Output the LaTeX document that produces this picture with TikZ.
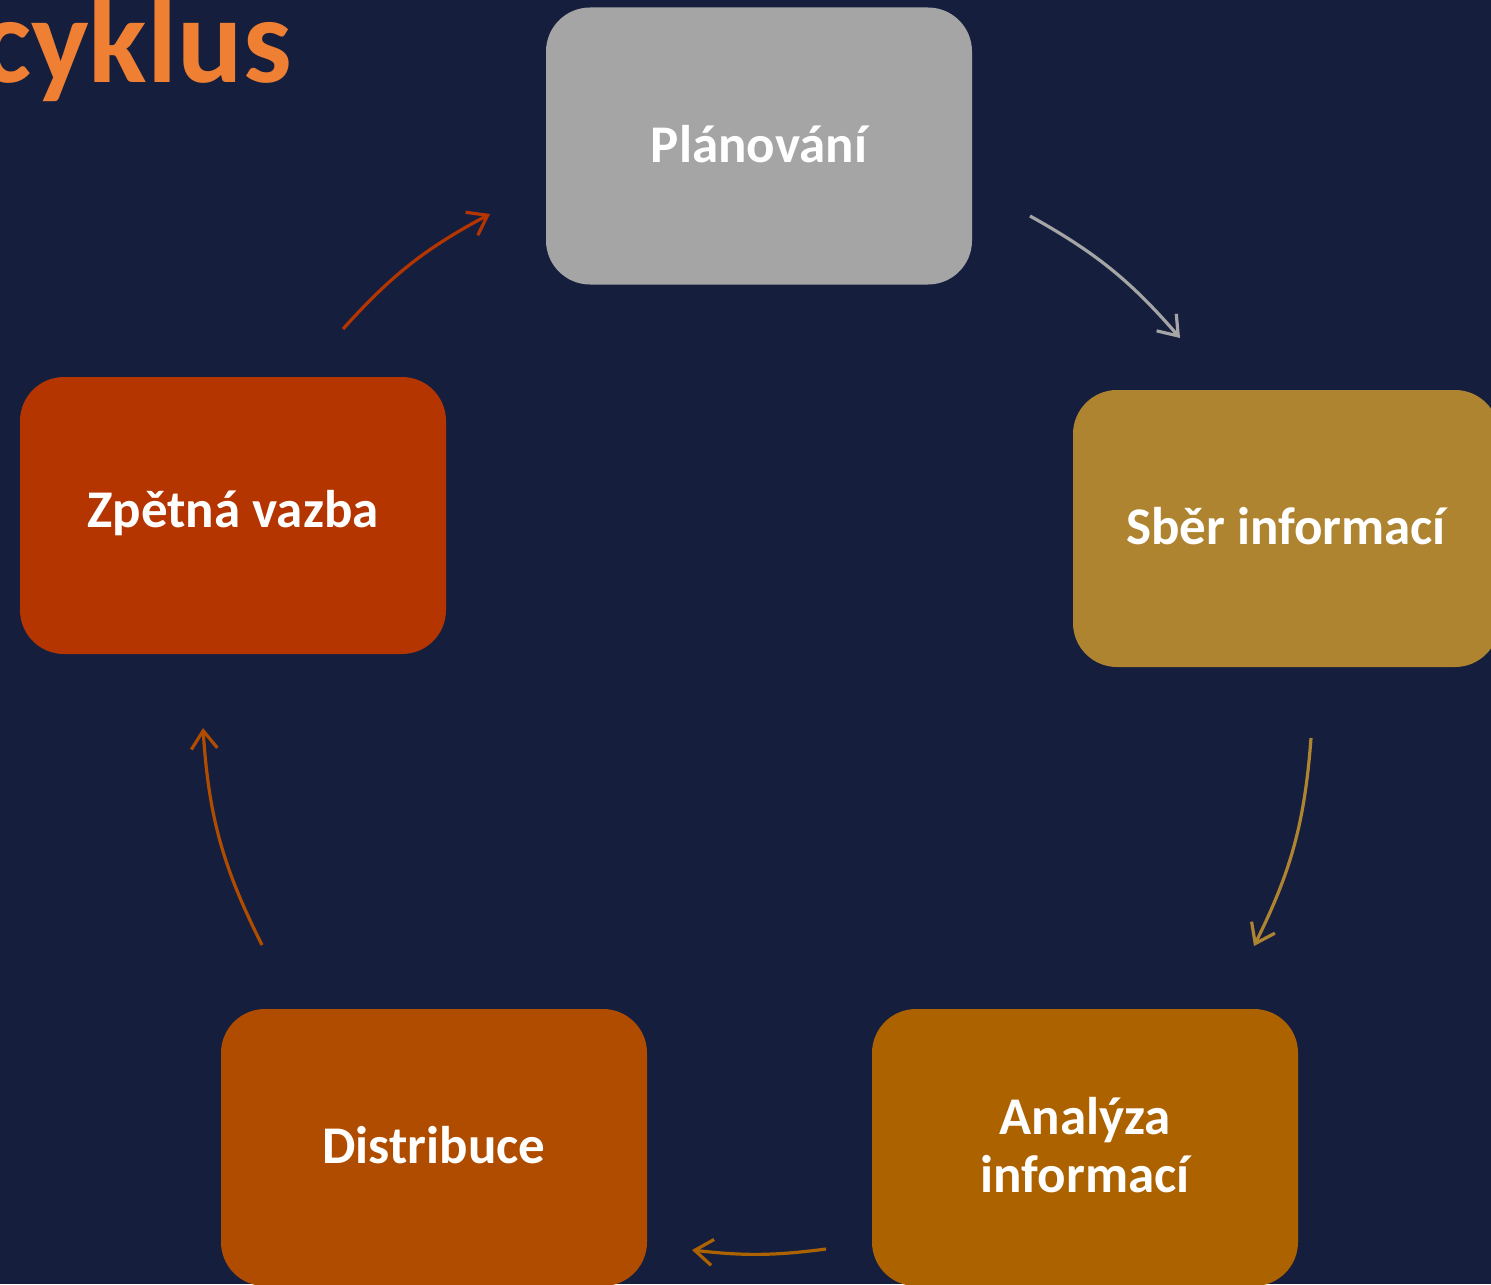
\documentclass[tikz,border=0pt]{standalone}
\usepackage{fontspec}
\setmainfont{Carlito}
\usetikzlibrary{arrows.meta}
\definecolor{bg}{HTML}{151F3D}
\definecolor{cplan}{HTML}{A5A5A5}
\definecolor{csber}{HTML}{AF8431}
\definecolor{canal}{HTML}{AD6200}
\definecolor{cdist}{HTML}{B04C00}
\definecolor{czpet}{HTML}{B43500}
\definecolor{ctitle}{HTML}{EE7F33}
\tikzset{
  stepbox/.style={rounded corners=22pt, minimum width=213pt, minimum height=138.5pt,
    inner sep=0pt},
  steptext/.style={text=white, align=center, inner sep=0pt, yshift=1.2pt,
    font=\bfseries\fontsize{26.5}{29}\selectfont},
  cyclearrow/.style={line width=1.6pt, -{Straight Barb[length=9pt,width=13pt]}}
}
\begin{document}
\begin{tikzpicture}[x=0.5pt,y=-0.5pt]
\fill[bg] (0,0) rectangle (1491,1284);
\useasboundingbox (0,0) rectangle (1491,1284);
\clip (0,0) rectangle (1491,1284);
\node[anchor=base east, inner sep=0pt, text=ctitle, font=\bfseries\fontsize{61}{64}\selectfont] (title) at (292,83) {cyklus};
\node[stepbox, fill=cplan, label={[steptext]center:Plánování}] (plan) at (759,146) {};
\node[stepbox, fill=csber, label={[steptext]center:Sběr informací}] (sber) at (1286,528.5) {};
\node[stepbox, fill=canal, label={[steptext]center:Analýza\\informací}] (anal) at (1085,1147.5) {};
\node[stepbox, fill=cdist, label={[steptext]center:Distribuce}] (dist) at (434,1147.5) {};
\node[stepbox, fill=czpet, label={[steptext]center:Zpětná vazba}] (zpet) at (233,515.5) {};
\coordinate (a1s) at (343,329);  \coordinate (a1e) at (490,214);
\coordinate (a2s) at (1030,216); \coordinate (a2e) at (1180,338);
\coordinate (a3s) at (1311,738); \coordinate (a3e) at (1254,946);
\coordinate (a4s) at (826,1249); \coordinate (a4e) at (692,1250);
\coordinate (a5s) at (262,945);  \coordinate (a5e) at (203,728);
\draw[cyclearrow, czpet] (a1s) to[bend left=10] (a1e);
\draw[cyclearrow, cplan] (a2s) to[bend left=10] (a2e);
\draw[cyclearrow, csber] (a3s) to[bend left=11] (a3e);
\draw[cyclearrow, canal] (a4s) to[bend left=7] (a4e);
\draw[cyclearrow, cdist] (a5s) to[bend left=11.5] (a5e);
\end{tikzpicture}
\end{document}
